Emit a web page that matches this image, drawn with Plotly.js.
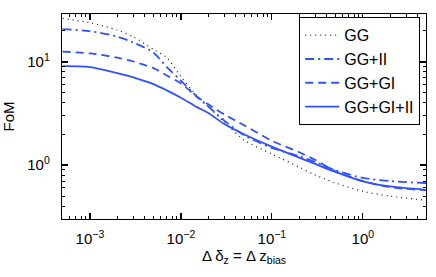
<!DOCTYPE html>
<html>
<head>
<meta charset="utf-8">
<script src="https://cdn.plot.ly/plotly-3.0.1.min.js"></script>
<style>html,body{margin:0;padding:0;background:#fff;}#chart{width:436px;height:277px;}</style>
</head>
<body>
<div id="chart"></div>
<script>
// Data
const deltaBias = [0.0005, 0.001, 0.002, 0.003, 0.005, 0.007, 0.01, 0.015, 0.02, 0.03, 0.05, 0.1, 0.2, 0.3, 0.5, 1, 2, 5];
const fomGG     = [26.5, 24.0, 20.4, 17.5, 13.2, 11.0, 7.2, 4.7, 3.7, 2.6, 1.74, 1.28, 0.955, 0.80, 0.67, 0.556, 0.50, 0.455];
const fomGGII   = [20.8, 19.9, 17.6, 15.4, 12.3, 8.9, 6.6, 4.6, 3.7, 2.7, 1.94, 1.47, 1.22, 1.07, 0.89, 0.75, 0.70, 0.67];
const fomGGGI   = [12.6, 12.1, 11.0, 10.1, 8.7, 7.4, 6.2, 4.6, 3.88, 3.1, 2.42, 1.72, 1.33, 1.12, 0.87, 0.70, 0.61, 0.57];
const fomGGGIII = [9.1, 8.9, 7.8, 7.1, 6.1, 5.3, 4.5, 3.65, 3.2, 2.5, 1.98, 1.51, 1.18, 1.025, 0.857, 0.695, 0.62, 0.575];
const seriesNames = ["GG", "GG+II", "GG+GI", "GG+GI+II"];
const xTickVals = [0.001, 0.01, 0.1, 1];
const xTickText = ["10<sup>\u22123</sup>", "10<sup>\u22122</sup>", "10<sup>\u22121</sup>", "10<sup>0</sup>"];
const yTickVals = [1, 10];
const yTickText = ["10<sup>0</sup>", "10<sup>1</sup>"];

const blue = "#3050ff";
const traces = [
  {x: deltaBias, y: fomGG, name: seriesNames[0], mode: "lines",
   line: {color: "#222", width: 1.3, dash: "1px,4px", shape: "spline", smoothing: 0.8}},
  {x: deltaBias, y: fomGGII, name: seriesNames[1], mode: "lines",
   line: {color: blue, width: 1.8, dash: "9px,4px,2px,4px", shape: "spline", smoothing: 0.8}},
  {x: deltaBias, y: fomGGGI, name: seriesNames[2], mode: "lines",
   line: {color: blue, width: 1.8, dash: "8px,5px", shape: "spline", smoothing: 0.8}},
  {x: deltaBias, y: fomGGGIII, name: seriesNames[3], mode: "lines",
   line: {color: blue, width: 1.8, shape: "spline", smoothing: 0.8}}
];

const fam = "Liberation Sans, Arial, sans-serif";
const font = {family: fam, size: 15, color: "#000"};
const layout = {
  width: 436, height: 277,
  margin: {l: 62, r: 10, t: 14, b: 58, pad: 0},
  paper_bgcolor: "#fff", plot_bgcolor: "#fff",
  font: font,
  showlegend: true,
  legend: {x: 0.9835, y: 0.985, xanchor: "right", yanchor: "top",
    bordercolor: "#000", borderwidth: 1.2, bgcolor: "#fff",
    font: {family: fam, size: 16, color: "#000"},
    tracegroupgap: 0, itemwidth: 34},
  xaxis: {
    type: "log", range: [-3.307, 0.694],
    showgrid: false, zeroline: false,
    showline: true, linecolor: "#000", linewidth: 1.2, mirror: "allticks",
    ticks: "inside", ticklen: 6, tickwidth: 1.2, tickcolor: "#000",
    tickvals: xTickVals, ticktext: xTickText,
    tickfont: {family: fam, size: 15, color: "#000"},
    minor: {dtick: "D1", ticks: "inside", ticklen: 3, tickwidth: 1, tickcolor: "#000", showgrid: false},
    ticklabelstandoff: 6,
    title: {text: "\u0394 \u03b4<sub>z</sub> = \u0394 z<sub>bias</sub>", font: {family: fam, size: 15, color: "#000"}, standoff: 4}
  },
  yaxis: {
    type: "log", range: [-0.523, 1.465],
    showgrid: false, zeroline: false,
    showline: true, linecolor: "#000", linewidth: 1.2, mirror: "allticks",
    ticks: "inside", ticklen: 6, tickwidth: 1.2, tickcolor: "#000",
    tickvals: yTickVals, ticktext: yTickText,
    tickfont: {family: fam, size: 15, color: "#000"},
    minor: {dtick: "D1", ticks: "inside", ticklen: 3, tickwidth: 1, tickcolor: "#000", showgrid: false},
    ticklabelstandoff: 8,
    title: {text: "FoM", font: {family: fam, size: 15, color: "#000"}, standoff: 12}
  }
};

Plotly.newPlot("chart", traces, layout, {staticPlot: true, displayModeBar: false});
</script>
</body>
</html>
